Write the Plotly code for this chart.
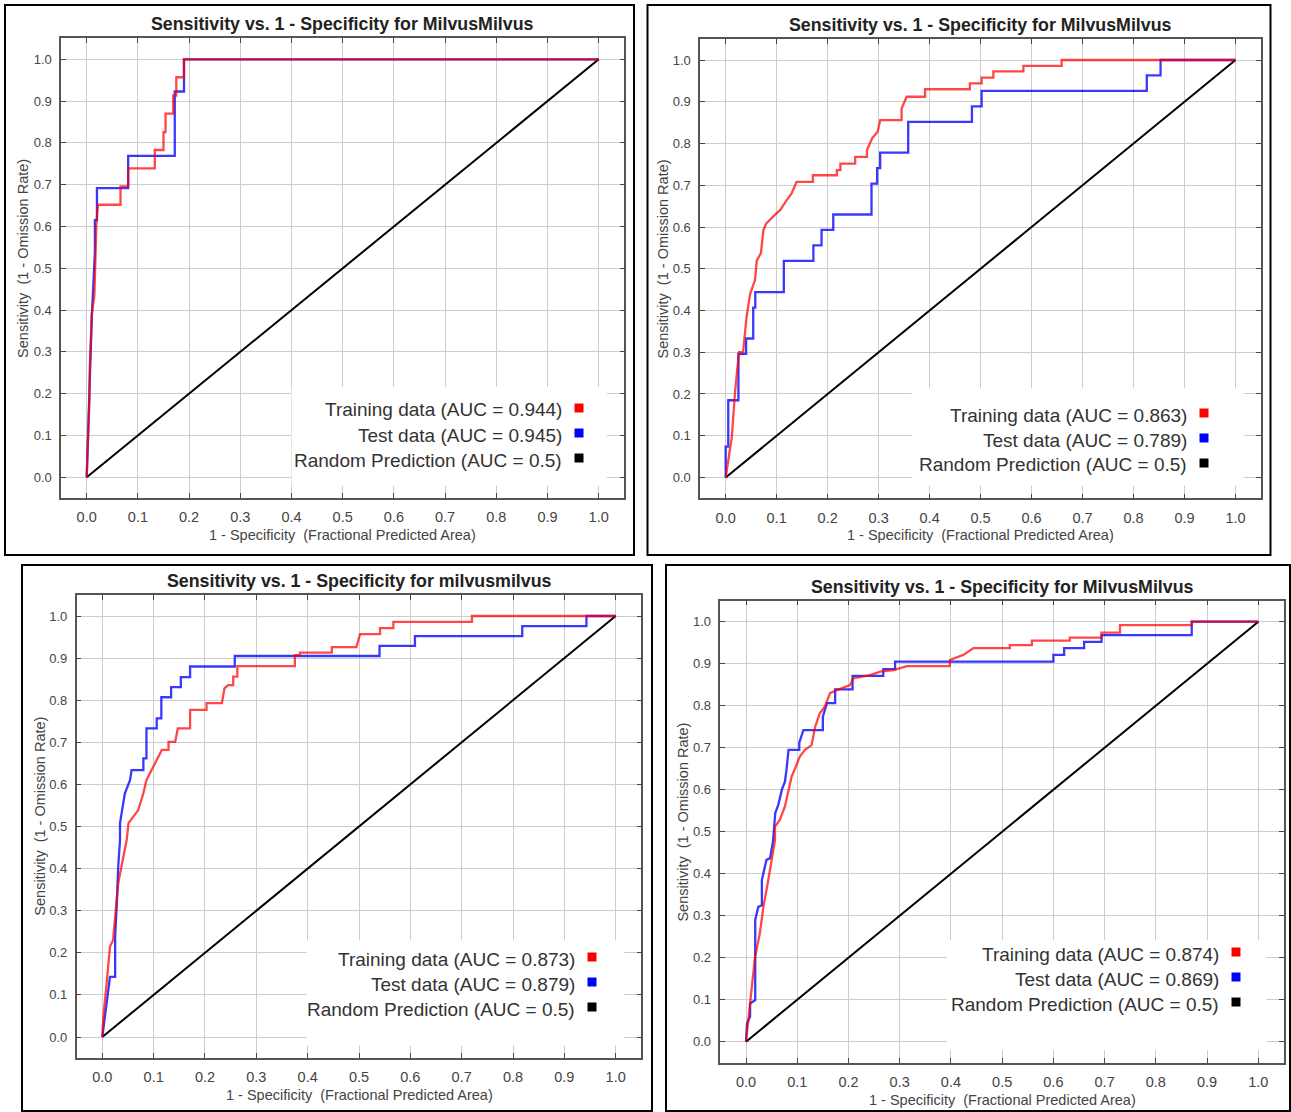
import plotly.graph_objects as go

W, H = 1291, 1112

# ---------------- data ----------------
titles = [
    "Sensitivity vs. 1 - Specificity for MilvusMilvus",
    "Sensitivity vs. 1 - Specificity for MilvusMilvus",
    "Sensitivity vs. 1 - Specificity for milvusmilvus",
    "Sensitivity vs. 1 - Specificity for MilvusMilvus",
]
auc_train = ["0.944", "0.863", "0.873", "0.874"]
auc_test = ["0.945", "0.789", "0.879", "0.869"]
auc_random = "0.5"

random_x = [0.0, 1.0]
random_y = [0.0, 1.0]

p1_train_x = [0, 0.003, 0.005, 0.006, 0.008, 0.010, 0.015, 0.017, 0.019, 0.022, 0.066, 0.066, 0.081, 0.081,
              0.133, 0.133, 0.150, 0.150, 0.154, 0.154, 0.169, 0.169, 0.175, 0.175, 0.190, 0.190, 1.0]
p1_train_y = [0, 0.087, 0.174, 0.261, 0.348, 0.391, 0.435, 0.522, 0.609, 0.652, 0.652, 0.696, 0.696, 0.739,
              0.739, 0.783, 0.783, 0.826, 0.826, 0.870, 0.870, 0.913, 0.913, 0.957, 0.957, 1.0, 1.0]
p1_test_x = [0, 0.002, 0.004, 0.005, 0.007, 0.010, 0.013, 0.016, 0.016, 0.020, 0.020, 0.081, 0.081,
             0.172, 0.172, 0.190, 0.190, 1.0]
p1_test_y = [0, 0.077, 0.154, 0.231, 0.308, 0.385, 0.462, 0.538, 0.615, 0.615, 0.692, 0.692, 0.769,
             0.769, 0.923, 0.923, 1.0, 1.0]

p2_train_x = [0, 0.012, 0.018, 0.026, 0.034, 0.041, 0.048, 0.0575, 0.061, 0.069, 0.074, 0.080, 0.093, 0.107,
              0.120, 0.129, 0.139, 0.171, 0.171, 0.218, 0.218, 0.225, 0.225, 0.254, 0.254, 0.277, 0.277,
              0.287, 0.298, 0.303, 0.345, 0.345, 0.355, 0.391, 0.391, 0.479, 0.479, 0.502, 0.502, 0.525,
              0.525, 0.584, 0.584, 0.659, 0.659, 1.0]
p2_train_y = [0, 0.097, 0.200, 0.300, 0.300, 0.385, 0.440, 0.473, 0.520, 0.537, 0.593, 0.609, 0.625, 0.641,
              0.665, 0.680, 0.708, 0.708, 0.724, 0.724, 0.736, 0.736, 0.752, 0.752, 0.768, 0.768, 0.784,
              0.812, 0.828, 0.856, 0.856, 0.884, 0.912, 0.912, 0.930, 0.930, 0.944, 0.944, 0.958, 0.958,
              0.973, 0.973, 0.986, 0.986, 1.0, 1.0]
p2_test_x = [0, 0, 0.005, 0.005, 0.025, 0.025, 0.040, 0.040, 0.054, 0.054, 0.058, 0.058, 0.114, 0.114,
             0.172, 0.172, 0.188, 0.188, 0.211, 0.211, 0.286, 0.286, 0.297, 0.297, 0.303, 0.303, 0.358,
             0.358, 0.483, 0.483, 0.502, 0.502, 0.826, 0.826, 0.853, 0.853, 1.0]
p2_test_y = [0, 0.074, 0.074, 0.185, 0.185, 0.296, 0.296, 0.333, 0.333, 0.407, 0.407, 0.444, 0.444, 0.519,
             0.519, 0.556, 0.556, 0.593, 0.593, 0.630, 0.630, 0.704, 0.704, 0.741, 0.741, 0.778, 0.778,
             0.852, 0.852, 0.889, 0.889, 0.926, 0.926, 0.963, 0.963, 1.0, 1.0]

p3_train_x = [0, 0.002, 0.0085, 0.015, 0.021, 0.025, 0.031, 0.041, 0.0475, 0.051, 0.060, 0.070, 0.080, 0.086,
              0.096, 0.106, 0.116, 0.129, 0.129, 0.142, 0.147, 0.171, 0.171, 0.203, 0.203, 0.233, 0.238,
              0.245, 0.255, 0.255, 0.263, 0.263, 0.375, 0.375, 0.385, 0.385, 0.447, 0.447, 0.495, 0.502,
              0.541, 0.541, 0.567, 0.567, 0.720, 0.720, 1.0]
p3_train_y = [0, 0.048, 0.128, 0.215, 0.230, 0.286, 0.365, 0.428, 0.468, 0.508, 0.524, 0.539, 0.579, 0.610,
              0.634, 0.658, 0.682, 0.682, 0.701, 0.701, 0.733, 0.733, 0.777, 0.777, 0.793, 0.793, 0.828,
              0.836, 0.836, 0.856, 0.856, 0.881, 0.881, 0.907, 0.907, 0.913, 0.913, 0.926, 0.926, 0.957,
              0.957, 0.971, 0.971, 0.986, 0.986, 1.0, 1.0]
p3_test_x = [0, 0.005, 0.015, 0.025, 0.025, 0.028, 0.031, 0.0345, 0.0345, 0.044, 0.054, 0.057, 0.080, 0.080,
             0.086, 0.086, 0.106, 0.106, 0.115, 0.115, 0.134, 0.134, 0.153, 0.153, 0.171, 0.171, 0.258,
             0.258, 0.540, 0.540, 0.609, 0.609, 0.818, 0.818, 0.943, 0.943, 1.0]
p3_test_y = [0, 0.048, 0.143, 0.143, 0.238, 0.310, 0.405, 0.468, 0.508, 0.579, 0.610, 0.634, 0.634, 0.662,
             0.662, 0.733, 0.733, 0.757, 0.757, 0.807, 0.807, 0.831, 0.831, 0.855, 0.855, 0.880, 0.880,
             0.905, 0.905, 0.929, 0.929, 0.952, 0.952, 0.976, 0.976, 1.0, 1.0]

p4_train_x = [0, 0.008, 0.0176, 0.027, 0.034, 0.0435, 0.050, 0.0566, 0.0566, 0.066, 0.076, 0.083, 0.089,
              0.096, 0.105, 0.115, 0.128, 0.135, 0.144, 0.154, 0.164, 0.177, 0.187, 0.203, 0.209, 0.242,
              0.262, 0.288, 0.314, 0.398, 0.398, 0.424, 0.444, 0.515, 0.515, 0.558, 0.558, 0.632, 0.632,
              0.694, 0.694, 0.730, 0.730, 0.870, 0.870, 1.0]
p4_train_y = [0, 0.099, 0.202, 0.258, 0.321, 0.385, 0.433, 0.480, 0.512, 0.528, 0.560, 0.600, 0.631,
              0.651, 0.679, 0.695, 0.706, 0.750, 0.782, 0.798, 0.830, 0.837, 0.841, 0.849, 0.865, 0.873,
              0.881, 0.885, 0.894, 0.894, 0.909, 0.921, 0.937, 0.937, 0.944, 0.944, 0.955, 0.955, 0.962,
              0.962, 0.974, 0.974, 0.992, 0.992, 1.0, 1.0]
p4_test_x = [0, 0.002, 0.008, 0.008, 0.018, 0.018, 0.024, 0.031, 0.031, 0.040, 0.047, 0.053, 0.057, 0.063,
             0.070, 0.076, 0.079, 0.083, 0.104, 0.104, 0.112, 0.150, 0.150, 0.158, 0.174, 0.174, 0.208,
             0.208, 0.268, 0.268, 0.291, 0.291, 0.600, 0.600, 0.621, 0.621, 0.660, 0.660, 0.694, 0.694,
             0.870, 0.870, 1.0]
p4_test_y = [0, 0.044, 0.060, 0.091, 0.099, 0.290, 0.321, 0.325, 0.385, 0.433, 0.437, 0.480, 0.544, 0.564,
             0.600, 0.619, 0.647, 0.695, 0.695, 0.712, 0.742, 0.742, 0.774, 0.806, 0.806, 0.839, 0.839,
             0.871, 0.871, 0.887, 0.887, 0.905, 0.905, 0.921, 0.921, 0.937, 0.937, 0.952, 0.952, 0.968,
             0.968, 1.0, 1.0]

train_x = [p1_train_x, p2_train_x, p3_train_x, p4_train_x]
train_y = [p1_train_y, p2_train_y, p3_train_y, p4_train_y]
test_x = [p1_test_x, p2_test_x, p3_test_x, p4_test_x]
test_y = [p1_test_y, p2_test_y, p3_test_y, p4_test_y]

# ---------------- layout geometry (pixels) ----------------
# pixel positions of data 0 and 1 on each axis: (x@0, x@1, y@1, y@0)
calib = [
    (86.7, 598.7, 59.3, 477.3),
    (725.7, 1235.5, 60.0, 477.5),
    (102.3, 615.7, 616.0, 1037.0),
    (746.0, 1258.3, 621.7, 1041.7),
]
boxes = [(5, 5, 634, 555), (647.5, 5, 1270.5, 555), (22, 565, 652, 1111), (666, 565, 1290, 1111)]
legend_right = [563, 1188, 576, 1220]
legend_top = [410, 415, 959, 954]
legend_box = [(0.400, 0.216), (0.365, 0.214), (0.398, 0.230), (0.392, 0.242)]
PAD = 0.05

FONT = "Liberation Sans, Arial, sans-serif"
RED = "rgba(255,0,0,0.72)"
BLUE = "rgba(0,0,255,0.78)"


def px(x):
    return x / W


def py(y):
    return 1 - y / H


fig = go.Figure()
annotations = []
shapes = []
layout = {}

for i in range(4):
    n = "" if i == 0 else str(i + 1)
    xa, ya = "x" + n, "y" + n
    x0, x1, y1, y0 = calib[i]
    w, h = x1 - x0, y0 - y1
    left, right = x0 - PAD * w, x1 + PAD * w
    top, bottom = y1 - PAD * h, y0 + PAD * h

    axis_common = dict(
        range=[-PAD, 1 + PAD], tick0=0, dtick=0.1, tickformat=".1f",
        showgrid=True, gridcolor="#cdcdcd", gridwidth=1.3, zeroline=False,
        ticks="inside", ticklen=5, tickwidth=1, tickcolor="#444",
        showline=True, linecolor="#555", linewidth=1.5, mirror="allticks",
        fixedrange=True,
    )
    layout["xaxis" + n] = dict(axis_common, domain=[px(left), px(right)], anchor=ya,
                               tickfont=dict(family=FONT, size=14.5, color="#444"), ticklabelstandoff=5)
    layout["yaxis" + n] = dict(axis_common, domain=[py(bottom), py(top)], anchor=xa,
                               tickfont=dict(family=FONT, size=13, color="#444"), ticklabelstandoff=5)

    fig.add_trace(go.Scatter(x=random_x, y=random_y, mode="lines", xaxis=xa, yaxis=ya,
                             line=dict(color="black", width=2), showlegend=False, hoverinfo="skip"))
    fig.add_trace(go.Scatter(x=test_x[i], y=test_y[i], mode="lines", xaxis=xa, yaxis=ya,
                             line=dict(color=BLUE, width=2.3), showlegend=False))
    fig.add_trace(go.Scatter(x=train_x[i], y=train_y[i], mode="lines", xaxis=xa, yaxis=ya,
                             line=dict(color=RED, width=2.3), showlegend=False))

    # outer panel frame
    bx0, by0, bx1, by1 = boxes[i]
    shapes.append(dict(type="rect", xref="paper", yref="paper", x0=px(bx0), x1=px(bx1),
                       y0=py(by1), y1=py(by0), line=dict(color="black", width=2), layer="above"))
    # white legend background inside the plot
    lx0, ly1 = legend_box[i]
    shapes.append(dict(type="rect", xref=xa, yref=ya, x0=lx0, x1=1.016, y0=-0.02, y1=ly1,
                       fillcolor="white", line=dict(width=0), layer="between"))

    cx = (left + right) / 2
    annotations.append(dict(text="<b>%s</b>" % titles[i], xref="paper", yref="paper",
                            x=px(cx), y=py(top - 14), xanchor="center", yanchor="middle",
                            showarrow=False, font=dict(family=FONT, size=17.8, color="#222")))
    annotations.append(dict(text="1 - Specificity \u00a0(Fractional Predicted Area)", xref="paper", yref="paper",
                            x=px(cx), y=py(bottom + 37), xanchor="center", yanchor="middle",
                            showarrow=False, font=dict(family=FONT, size=14.5, color="#444")))
    annotations.append(dict(text="Sensitivity \u00a0(1 - Omission Rate)", xref="paper", yref="paper",
                            x=px(left - 37.5), y=py((top + bottom) / 2 - 10), xanchor="center", yanchor="middle",
                            textangle=-90, showarrow=False, font=dict(family=FONT, size=14.5, color="#444")))

    labels = ["Training data (AUC = %s)" % auc_train[i],
              "Test data (AUC = %s)" % auc_test[i],
              "Random Prediction (AUC = %s)" % auc_random]
    colors = ["#ff0000", "#0000ff", "#000000"]
    for k in range(3):
        ty = legend_top[i] + 25 * k
        annotations.append(dict(text=labels[k], xref="paper", yref="paper",
                                x=px(legend_right[i] + 1), y=py(ty), xanchor="right", yanchor="middle",
                                showarrow=False, font=dict(family=FONT, size=19, color="#333")))
        sx, sy = legend_right[i] + 16, ty - 2
        shapes.append(dict(type="rect", xref="paper", yref="paper", x0=px(sx - 4.5), x1=px(sx + 4.5),
                           y0=py(sy + 4.5), y1=py(sy - 4.5), fillcolor=colors[k],
                           line=dict(width=0), layer="above"))

fig.update_layout(**layout)
fig.update_layout(
    width=W, height=H, margin=dict(l=0, r=0, t=0, b=0),
    paper_bgcolor="white", plot_bgcolor="white",
    font=dict(family=FONT), showlegend=False,
    annotations=annotations, shapes=shapes,
)

fig.write_html("out.html")
